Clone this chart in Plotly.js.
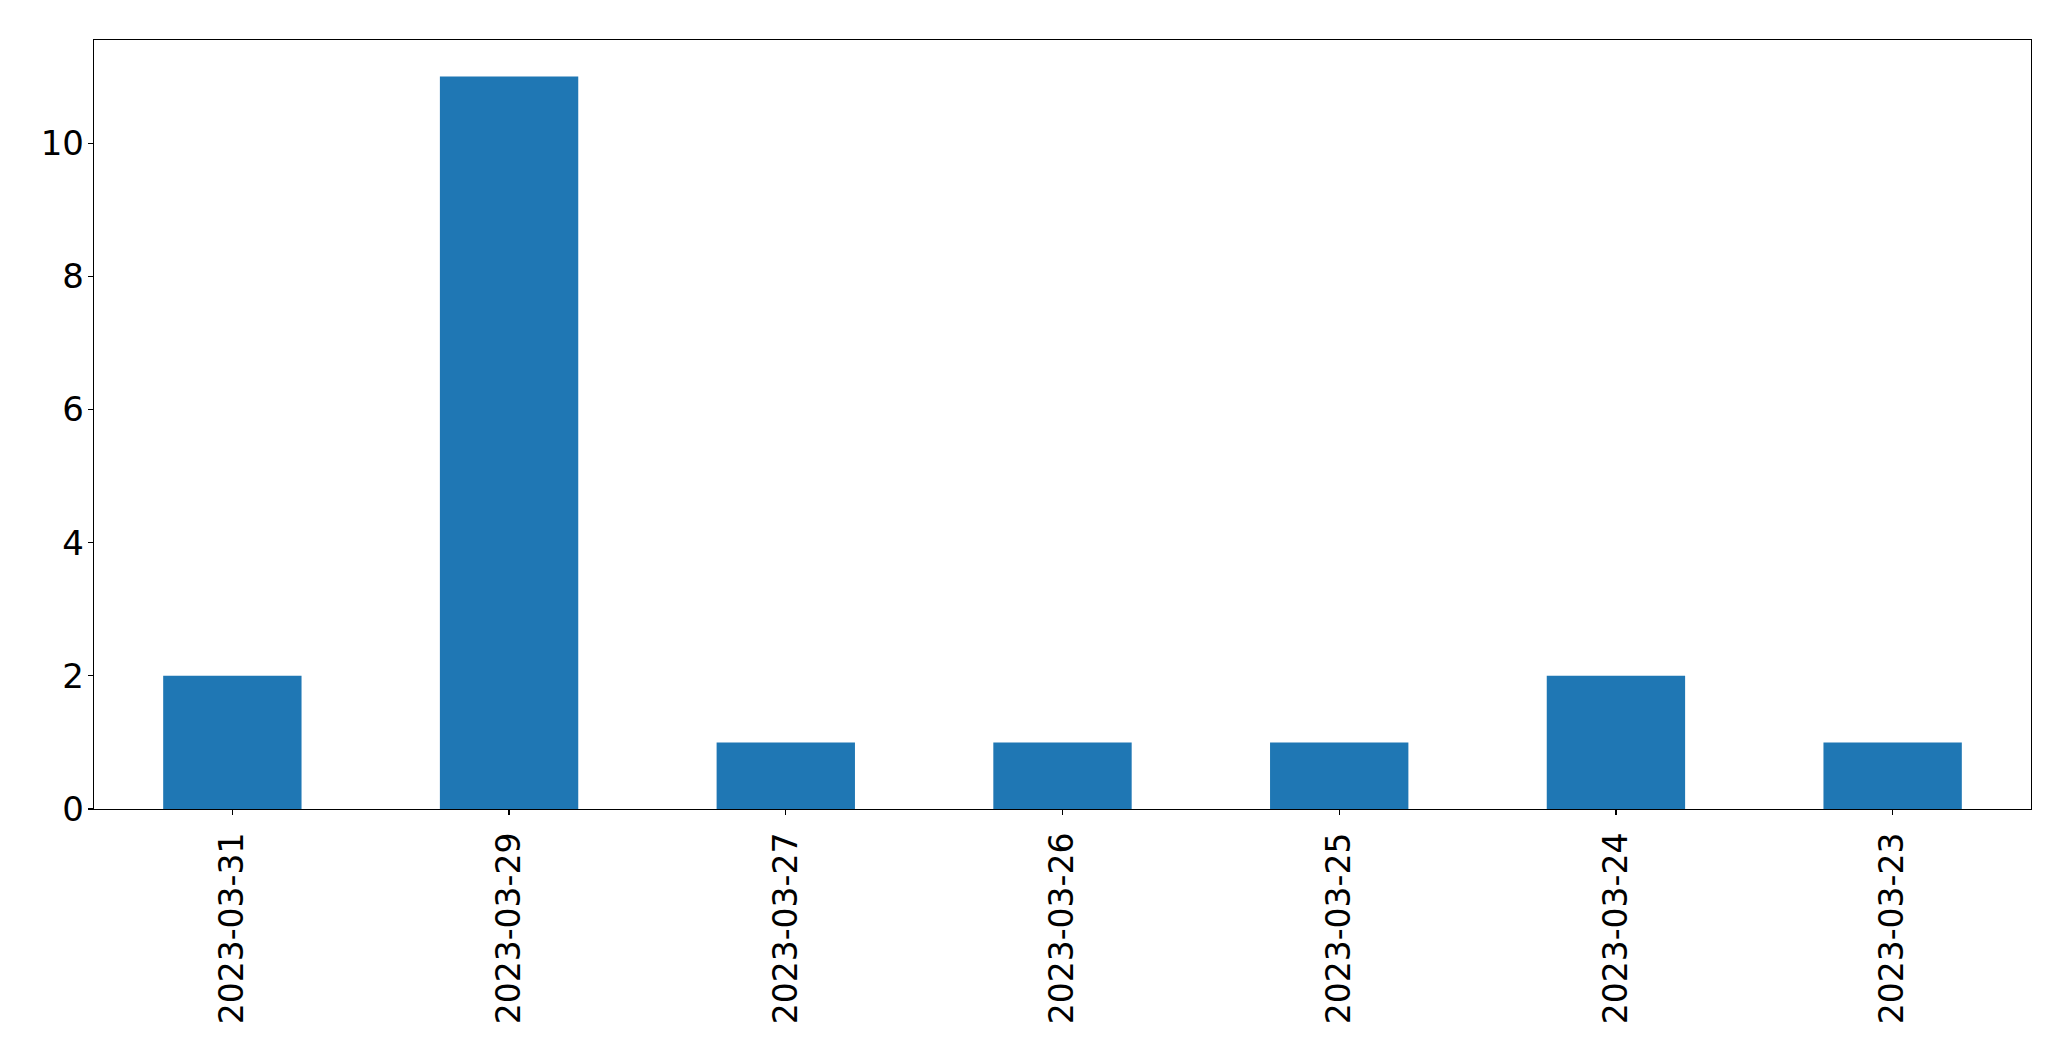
<!DOCTYPE html>
<html>
<head>
<meta charset="utf-8">
<script src="https://cdn.plot.ly/plotly-3.0.1.min.js"></script>
<style>html,body{margin:0;padding:0;background:#fff;}</style>
</head>
<body>
<div id="chart" style="width:2071px;height:1061px;"></div>
<script>
const categories = ["2023-03-31", "2023-03-29", "2023-03-27", "2023-03-26", "2023-03-25", "2023-03-24", "2023-03-23"];
const counts = [2, 11, 1, 1, 1, 2, 1];
const yTicks = [0, 2, 4, 6, 8, 10];

const trace = {
  type: 'bar',
  x: categories,
  y: counts,
  width: 0.5,
  marker: {color: '#1f77b4', line: {width: 0}},
  hoverinfo: 'x+y'
};

const layout = {
  width: 2071,
  height: 1061,
  margin: {l: 94, r: 40, t: 40, b: 252},
  paper_bgcolor: '#ffffff',
  plot_bgcolor: '#ffffff',
  showlegend: false,
  font: {family: 'DejaVu Sans', color: '#000000', size: 33},
  xaxis: {
    type: 'category',
    range: [-0.5, 6.5],
    tickangle: -90,
    showgrid: false,
    zeroline: false,
    showline: true,
    linecolor: '#000000',
    linewidth: 1.3,
    mirror: true,
    ticks: 'outside',
    ticklen: 5,
    tickwidth: 1.3,
    tickcolor: '#000000',
    tickfont: {family: 'DejaVu Sans', size: 33, color: '#000000'},
    ticklabelstandoff: 4
  },
  yaxis: {
    range: [0, 11.55],
    tickvals: yTicks,
    ticktext: yTicks.map(String),
    showgrid: false,
    zeroline: false,
    showline: true,
    linecolor: '#000000',
    linewidth: 1.3,
    mirror: true,
    ticks: 'outside',
    ticklen: 5,
    tickwidth: 1.3,
    tickcolor: '#000000',
    tickfont: {family: 'DejaVu Sans', size: 34, color: '#000000'},
    ticklabelstandoff: -3
  }
};

Plotly.newPlot('chart', [trace], layout, {displayModeBar: false, staticPlot: true});
</script>
</body>
</html>
